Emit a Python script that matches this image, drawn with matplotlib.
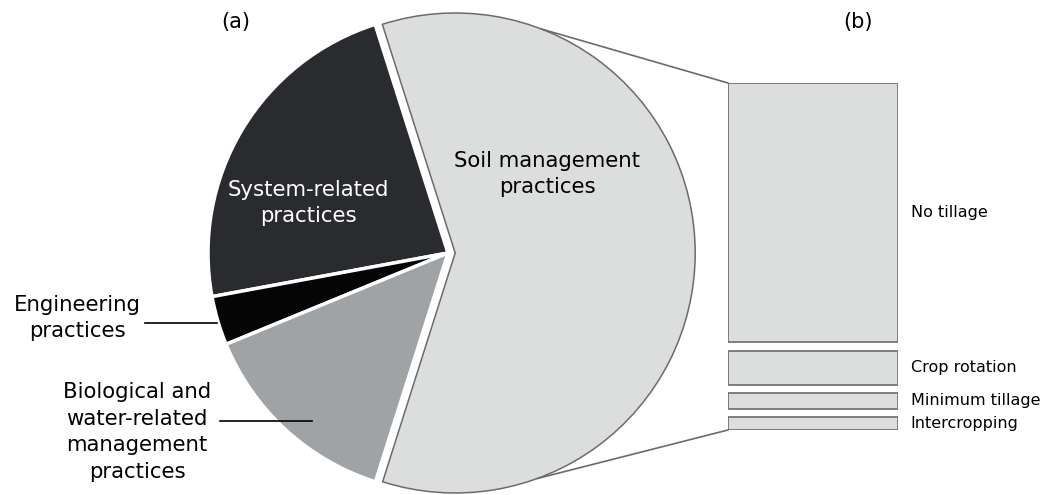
import matplotlib.pyplot as plt
from matplotlib.patches import ConnectionPatch
import numpy as np

plt.rcParams['font.family'] = 'DejaVu Sans'

# (a) pie: share of practices (%)
pie_labels = ['Soil management\npractices', 'System-related\npractices',
              'Engineering\npractices',
              'Biological and\nwater-related\nmanagement\npractices']
pie_values = [59.8, 23.0, 3.3, 13.9]
pie_colors = ['#dcdddd', '#2a2b2e', '#050505', '#a0a3a5']

# (b) breakdown of soil management practices
bar_labels = ['No tillage', 'Crop rotation', 'Minimum tillage', 'Intercropping']
bar_values = [80, 10.5, 5, 4]

W, H = 1057, 495
fig = plt.figure(figsize=(W / 100, H / 100), dpi=100)

# pie axes, placed in pixels
cx, cy, r = 448, 253, 240
ax1 = fig.add_axes([(cx - r) / W, (H - cy - r) / H, 2 * r / W, 2 * r / H])
wedges, _ = ax1.pie(pie_values, colors=pie_colors, startangle=-107.6,
                    explode=[0.03, 0, 0, 0], radius=1,
                    wedgeprops=dict(edgecolor='white', linewidth=2.5))
wedges[0].set_edgecolor('#6b6b6b')
wedges[0].set_linewidth(1.1)
ax1.set_aspect('equal')
ax1.set_xlim(-1, 1)
ax1.set_ylim(-1, 1)
ax1.axis('off')


def px(x, y):
    # pixel position -> pie data coords
    return (x - cx) / r, (cy - y) / r


fs = 15.3
ls = 1.4
# labels inside the pie
ax1.text(*px(547, 174), pie_labels[0], ha='center', va='center', fontsize=fs,
         color='black', linespacing=ls)
ax1.text(*px(308, 203), pie_labels[1], ha='center', va='center', fontsize=fs,
         color='white', linespacing=ls)

# labels outside the pie with leader lines
ax1.text(*px(77, 318), pie_labels[2], ha='center', va='center', fontsize=fs,
         linespacing=ls)
ax1.text(*px(137, 432), pie_labels[3], ha='center', va='center', fontsize=fs,
         linespacing=ls)
for (xa, ya), (xb, yb) in [((145, 323), (217, 323)), ((220, 421), (312, 421))]:
    p0, p1 = px(xa, ya), px(xb, yb)
    ax1.plot([p0[0], p1[0]], [p0[1], p1[1]], color='black', lw=1.2,
             clip_on=False)

fig.text(236 / W, 1 - 22 / H, '(a)', ha='center', va='center', fontsize=15)
fig.text(858 / W, 1 - 22 / H, '(b)', ha='center', va='center', fontsize=15)

# bar axes
gap = 2.5
bx0, bx1, by0, by1 = 728, 898, 83, 430
ax2 = fig.add_axes([bx0 / W, (H - by1) / H, (bx1 - bx0) / W, (by1 - by0) / H])
total = sum(bar_values) + gap * (len(bar_values) - 1)
top = total
for lab, v in zip(bar_labels, bar_values):
    bottom = top - v
    ax2.bar(0.5, v, bottom=bottom, width=1, color='#dcdddd',
            edgecolor='#6b6b6b', linewidth=1.2)
    ax2.text(1.075, bottom + v / 2, lab, ha='left', va='center', fontsize=11.5)
    top = bottom - gap
ax2.set_xlim(0, 1)
ax2.set_ylim(0, total)
ax2.axis('off')

# connection lines from the soil wedge to the bar
c = wedges[0].center
for ang, yb in [(69, total), (-70, 0)]:
    x = c[0] + np.cos(np.radians(ang))
    y = c[1] + np.sin(np.radians(ang))
    con = ConnectionPatch(xyA=(x, y), coordsA=ax1.transData,
                          xyB=(0, yb), coordsB=ax2.transData,
                          color='#6b6b6b', linewidth=1.2)
    fig.add_artist(con)

fig.savefig('out.png', dpi=100)
